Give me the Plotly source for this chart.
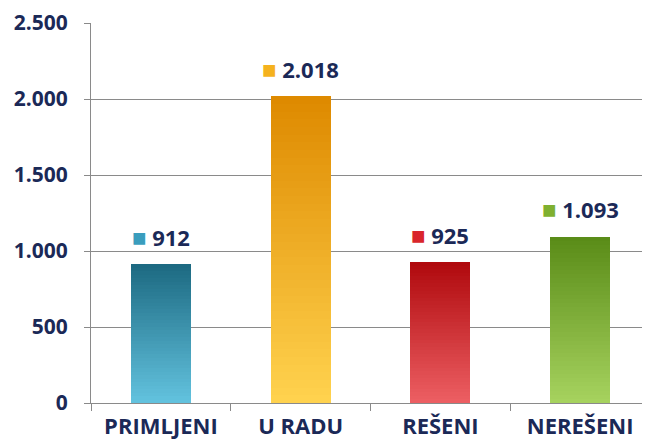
import plotly.graph_objects as go

categories = ["PRIMLJENI", "U RADU", "REŠENI", "NEREŠENI"]
values = [912, 2018, 925, 1093]
label_texts = ["912", "2.018", "925", "1.093"]
top_colors = ["#1d6a82", "#de8a00", "#b00a0e", "#5a8c18"]
bottom_colors = ["#62c2de", "#ffd24e", "#ec5e62", "#a6d25e"]
marker_colors = ["#3a9dbd", "#f5b21e", "#d9262b", "#7fb030"]

NAVY = "#1b2957"
N = 40


def hex2rgb(h):
    h = h.lstrip("#")
    return [int(h[i:i + 2], 16) for i in (0, 2, 4)]


def mix(c1, c2, t):
    a, b = hex2rgb(c1), hex2rgb(c2)
    return "rgb(%d,%d,%d)" % tuple(round(a[i] + (b[i] - a[i]) * t) for i in range(3))


fig = go.Figure()
# gradient bars: each bar stacked from N thin slices (bottom light -> top dark)
for k in range(N):
    t = k / (N - 1)
    fig.add_trace(go.Bar(
        x=categories,
        y=[v / N for v in values],
        marker=dict(color=[mix(bottom_colors[i], top_colors[i], t) for i in range(4)],
                    line=dict(width=0)),
        width=0.43,
        showlegend=False,
        hoverinfo="skip",
    ))

for i, c in enumerate(categories):
    fig.add_annotation(
        x=c, y=values[i], xref="x", yref="y",
        text="<span style='color:%s;font-size:24px'>■</span> %s" % (marker_colors[i], label_texts[i]),
        showarrow=False, yshift=28, yanchor="middle",
        font=dict(family="Open Sans", size=22, color=NAVY, weight="bold"),
    )

# page body has an 8px default margin, so the figure is 642x433 placed at (8, 8)
fig.update_layout(
    width=642, height=433,
    margin=dict(l=83, r=0, t=15, b=38),
    paper_bgcolor="white", plot_bgcolor="white",
    barmode="stack", bargap=0,
    separators=",.",
    showlegend=False,
)
fig.update_xaxes(
    type="category", range=[-0.5, 3.5], automargin=False,
    showline=True, linecolor="#8a8a8a", linewidth=1,
    ticks="outside", tickson="boundaries", ticklen=7, tickcolor="#8a8a8a",
    tickfont=dict(family="Open Sans", size=22, color=NAVY, weight="bold"),
    ticklabelstandoff=4,
    showgrid=False,
)
fig.update_yaxes(
    range=[0, 2500], dtick=500, tickformat=",d", automargin=False,
    showline=True, linecolor="#8a8a8a", linewidth=1,
    ticks="outside", ticklen=6, tickcolor="#8a8a8a",
    gridcolor="#8a8a8a", gridwidth=1,
    zeroline=False,
    ticklabelstandoff=12,
    tickfont=dict(family="Open Sans", size=21, color=NAVY, weight="bold"),
)

fig.write_html("out.html")
